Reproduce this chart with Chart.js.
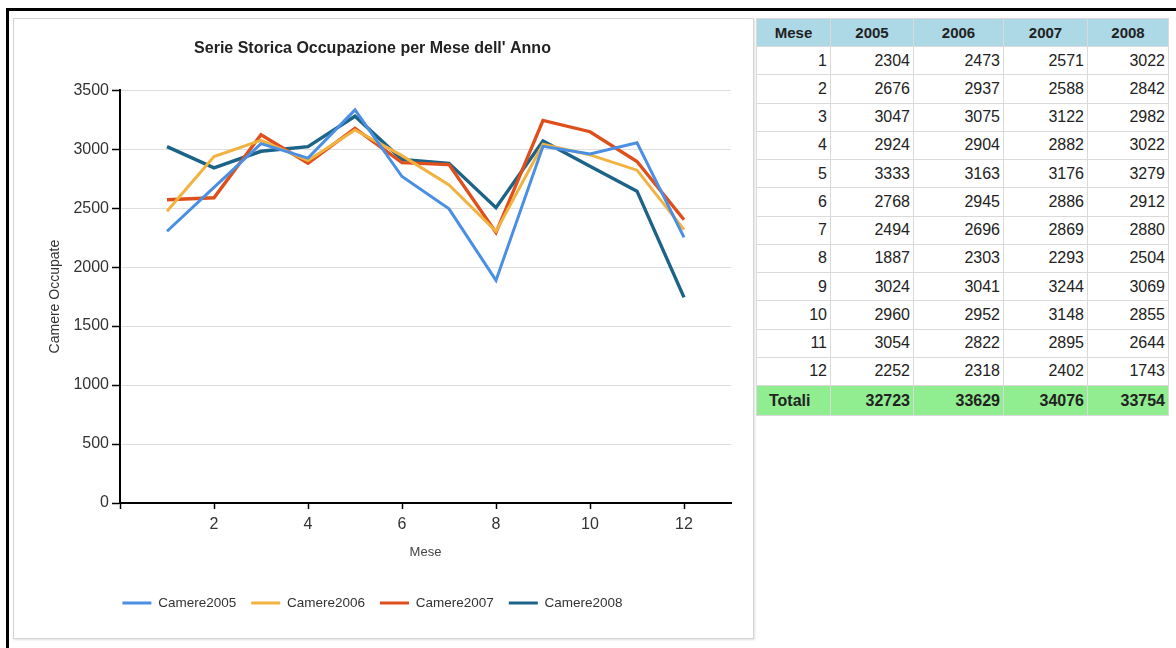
<!DOCTYPE html>
<html>
<head>
<meta charset="utf-8">
<script src="https://cdn.jsdelivr.net/npm/chart.js@4/dist/chart.umd.min.js"></script>
<style>
  html, body { margin: 0; padding: 0; background: #fff; width: 1176px; height: 648px; overflow: hidden; }
  #frame { position: absolute; left: 6px; top: 8px; width: 1300px; height: 800px; border-top: 3px solid #000; border-left: 3px solid #000; }
  #panel { position: absolute; left: 13px; top: 18px; width: 739px; height: 619px; border: 1px solid #d4d4d4; box-shadow: 1px 1px 2px rgba(0,0,0,0.12); background: #fff; }
  #chartBox { position: absolute; left: 14px; top: 19px; width: 739px; height: 618px; }
  #tbl { position: absolute; left: 756px; top: 18px; border-collapse: collapse; font-family: "Liberation Sans", Arial, sans-serif; color: #222; }
  #tbl td, #tbl th { border: 1px solid #dadada; padding: 0 3px; height: 28.25px; box-sizing: border-box; }
  #tbl th { background: #add8e6; font-weight: bold; font-size: 15px; text-align: center; height: 28px; }
  #tbl td { font-size: 16px; text-align: right; }
  #tbl tr.tot td { background: #90ee90; font-weight: bold; height: 30px; }
  #tbl tr.tot td:first-child { text-align: left; padding-left: 12px; }
</style>
</head>
<body>
<div id="frame"></div>
<div id="panel"></div>
<div id="chartBox"><canvas id="c"></canvas></div>
<table id="tbl"></table>
<script>
const months = [1, 2, 3, 4, 5, 6, 7, 8, 9, 10, 11, 12];
const years = ["2005", "2006", "2007", "2008"];
const camere2005 = [2304, 2676, 3047, 2924, 3333, 2768, 2494, 1887, 3024, 2960, 3054, 2252];
const camere2006 = [2473, 2937, 3075, 2904, 3163, 2945, 2696, 2303, 3041, 2952, 2822, 2318];
const camere2007 = [2571, 2588, 3122, 2882, 3176, 2886, 2869, 2293, 3244, 3148, 2895, 2402];
const camere2008 = [3022, 2842, 2982, 3022, 3279, 2912, 2880, 2504, 3069, 2855, 2644, 1743];
const totali = [32723, 33629, 34076, 33754];
const seriesNames = ["Camere2005", "Camere2006", "Camere2007", "Camere2008"];
const seriesColors = ["#4a8fe4", "#f2b240", "#df4f1c", "#1b6488"];
const xTicks = [0, 2, 4, 6, 8, 10, 12];

const allSeries = [camere2005, camere2006, camere2007, camere2008];

// table
const tbl = document.getElementById('tbl');
const colW = [74, 83, 90, 84, 81];
let html = '<colgroup>' + colW.map(w => '<col style="width:' + w + 'px">').join('') + '</colgroup>';
html += '<tr><th>Mese</th>' + years.map(y => '<th>' + y + '</th>').join('') + '</tr>';
months.forEach((m, i) => {
  html += '<tr><td>' + m + '</td>' + allSeries.map(s => '<td>' + s[i] + '</td>').join('') + '</tr>';
});
html += '<tr class="tot"><td>Totali</td>' + totali.map(t => '<td>' + t + '</td>').join('') + '</tr>';
tbl.innerHTML = html;

const datasets = allSeries.map((s, k) => ({
  label: seriesNames[k],
  data: months.map((m, i) => ({ x: m, y: s[i] })),
  borderColor: seriesColors[k],
  backgroundColor: seriesColors[k],
  borderWidth: k >= 2 ? 3.4 : 3,
  pointRadius: 0,
  tension: 0
}));

new Chart(document.getElementById('c'), {
  type: 'line',
  data: { datasets },
  options: {
    responsive: true,
    maintainAspectRatio: false,
    animation: false,
    layout: { padding: { top: 0, left: 0, right: 22, bottom: 17.25 } },
    plugins: {
      title: {
        display: true,
        text: "Serie Storica Occupazione per Mese dell' Anno",
        font: { family: "Liberation Sans", size: 16, weight: 'bold' },
        color: '#222',
        padding: { top: 20, bottom: 32 }
      },
      legend: {
        position: 'bottom',
        labels: {
          font: { family: "Liberation Sans", size: 13.5 },
          color: '#333',
          boxWidth: 29,
          boxHeight: 3,
          padding: 15,
          generateLabels: (chart) => chart.data.datasets.map((d, i) => ({
            text: d.label, fillStyle: d.borderColor, strokeStyle: d.borderColor,
            lineWidth: 0, hidden: false, datasetIndex: i, fontColor: '#333'
          }))
        }
      },
      tooltip: { enabled: false }
    },
    scales: {
      x: {
        type: 'linear',
        min: 0,
        max: 13,
        afterBuildTicks: (scale) => { scale.ticks = xTicks.map(v => ({ value: v })); },
        afterFit: (scale) => { scale.height = 78.25; },
        ticks: {
          callback: (v) => v === 0 ? '' : String(v),
          font: { family: "Liberation Sans", size: 16 },
          color: '#333',
          padding: 6,
          maxRotation: 0,
          autoSkip: false
        },
        grid: { drawOnChartArea: false, drawTicks: true, tickLength: 6, tickColor: '#000', tickWidth: 1.5 },
        border: { display: true, color: '#000', width: 2 },
        title: {
          display: true, text: 'Mese',
          font: { family: "Liberation Sans", size: 13 },
          color: '#444',
          padding: { top: 0, bottom: 21.45 }
        }
      },
      y: {
        min: 0,
        max: 3500,
        afterFit: (scale) => { scale.width = 106; },
        ticks: {
          stepSize: 500,
          callback: (v) => String(v),
          font: { family: "Liberation Sans", size: 16 },
          color: '#333',
          padding: 3
        },
        grid: { color: '#dedede', lineWidth: 1, drawTicks: true, tickLength: 8, tickColor: '#000', tickWidth: 1.5 },
        border: { display: true, color: '#000', width: 2 },
        title: {
          display: true, text: 'Camere Occupate',
          font: { family: "Liberation Sans", size: 14 },
          color: '#333',
          padding: { top: 32.6, bottom: 0 }
        }
      }
    }
  }
});
</script>
</body>
</html>
